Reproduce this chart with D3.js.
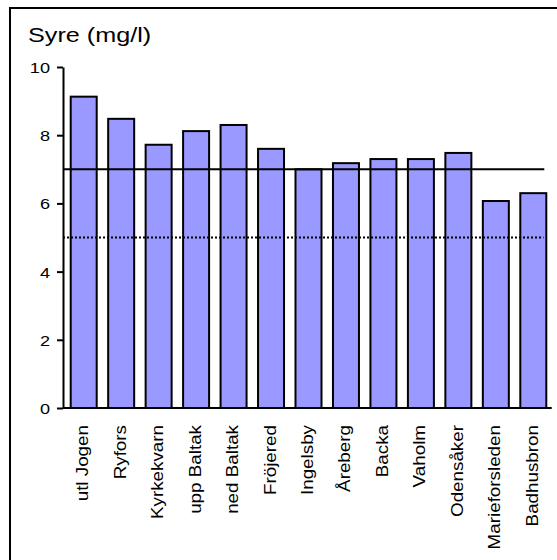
<!DOCTYPE html>
<html>
<head>
<meta charset="utf-8">
<script src="https://cdn.jsdelivr.net/npm/d3@7"></script>
<style>
  html, body { margin: 0; padding: 0; background: #fff; }
  svg { display: block; }
  text { font-family: "Liberation Sans", Arial, Helvetica, sans-serif; fill: #000; }
</style>
</head>
<body>
<svg id="chart" width="557" height="560"></svg>
<script>
const categories = ["utl Jogen", "Ryfors", "Kyrkekvarn", "upp Baltak", "ned Baltak", "Fröjered",
  "Ingelsby", "Åreberg", "Backa", "Vaholm", "Odensåker", "Marieforsleden", "Badhusbron"];
const values = [9.13, 8.48, 7.72, 8.12, 8.3, 7.6, 7.0, 7.18, 7.3, 7.3, 7.48, 6.07, 6.3];
const yTicks = [0, 2, 4, 6, 8, 10];
const limitSolid = 7;
const limitDotted = 5;
const title = "Syre (mg/l)";

const svg = d3.select("#chart");

// outer frame
svg.append("rect")
  .attr("x", 10).attr("y", 8).attr("width", 620).attr("height", 620)
  .attr("fill", "none").attr("stroke", "#000").attr("stroke-width", 2);

const axisX = 63;
const y = d3.scaleLinear().domain([0, 10]).range([408, 67]);
const x = d3.scaleBand().domain(categories).range([70.7, 546.3])
  .paddingInner(0.306).paddingOuter(0);

// bars
svg.append("g").selectAll("rect").data(values).join("rect")
  .attr("x", (d, i) => x(categories[i]))
  .attr("y", d => y(d))
  .attr("width", x.bandwidth())
  .attr("height", d => y(0) - y(d))
  .attr("fill", "#9999FF")
  .attr("stroke", "#000")
  .attr("stroke-width", 2);

// reference lines
svg.append("line")
  .attr("x1", axisX).attr("x2", 544.3)
  .attr("y1", y(limitSolid)).attr("y2", y(limitSolid))
  .attr("stroke", "#000").attr("stroke-width", 2);
svg.append("line")
  .attr("x1", axisX).attr("x2", 543.5)
  .attr("y1", y(limitDotted)).attr("y2", y(limitDotted))
  .attr("stroke", "#000").attr("stroke-width", 2)
  .attr("stroke-dasharray", "2,2");

// x axis baseline
svg.append("line")
  .attr("x1", axisX).attr("x2", 551.7)
  .attr("y1", y(0)).attr("y2", y(0))
  .attr("stroke", "#000").attr("stroke-width", 2);

// y axis
const yAxis = svg.append("g")
  .attr("transform", `translate(${axisX},0)`)
  .call(d3.axisLeft(y).tickValues(yTicks).tickSize(6).tickSizeOuter(0).tickFormat(d3.format("d")));
yAxis.select(".domain").attr("stroke", "#000").attr("stroke-width", 2);
yAxis.selectAll(".tick line").attr("stroke", "#000").attr("stroke-width", 2);
yAxis.selectAll(".tick text")
  .attr("x", null).attr("dy", "0.36em")
  .attr("transform", "translate(-13,0) scale(1.17,1)")
  .attr("text-anchor", "end")
  .style("font-size", "15.5px")
  .style("font-family", "'Liberation Sans', Arial, sans-serif")
  .attr("fill", "#000");

// x labels
svg.append("g").selectAll("text").data(categories).join("text")
  .attr("transform", d => `translate(${x(d) + x.bandwidth() / 2 + 4.5},425) rotate(-90) scale(1.14,1)`)
  .attr("text-anchor", "end")
  .style("font-size", "16.5px")
  .text(d => d);

// title
svg.append("text")
  .attr("transform", "translate(28,42) scale(1.2,1)")
  .style("font-size", "21px")
  .text(title);
</script>
</body>
</html>
